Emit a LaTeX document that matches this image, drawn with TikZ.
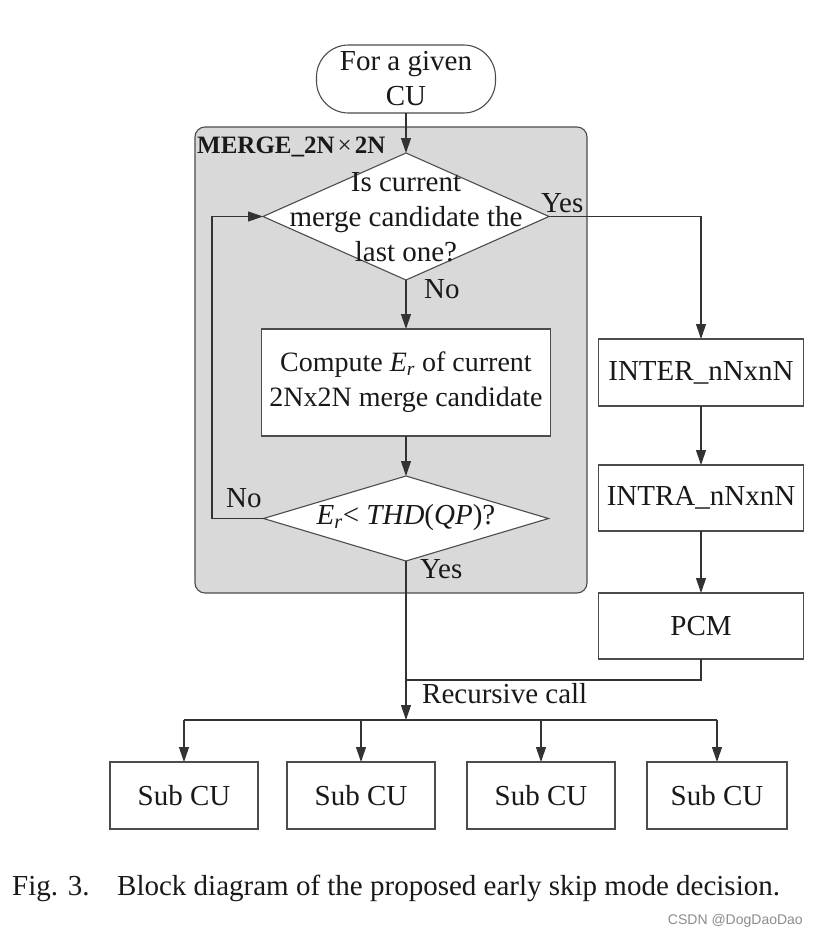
\documentclass[tikz,border=0pt]{standalone}
\usepackage{fontspec}
\setmainfont{Liberation Serif}
\newfontfamily\wmfont{Liberation Sans}
\usetikzlibrary{arrows.meta,shapes.geometric}
\newcommand{\mydiafont}{\fontsize{29}{35}\selectfont}
\begin{document}
\begin{tikzpicture}[x=1pt,y=-1pt,
  line/.style={draw=black!80, line width=1.1pt},
  arr/.style={line, -{Triangle[length=15pt,width=10pt]}},
  box/.style={draw=black!70, line width=1.1pt, fill=white, rectangle, inner sep=2pt, outer sep=0pt, align=center, font=\mydiafont, text=black!90},
  dia/.style={draw=black!70, line width=1.1pt, fill=white, diamond, inner sep=0pt, outer sep=0pt},
  lbl/.style={font=\mydiafont, text=black!90, inner sep=0pt, anchor=base west},
  captxt/.style={anchor=base west, font=\fontsize{29}{34}\selectfont, inner sep=0pt, text=black!90},
]
\fill[white] (0,0) rectangle (818,938);
\useasboundingbox (0,0) rectangle (818,938);

% gray merge region
\node[draw=black!70, line width=1.1pt, fill=black!15, rounded corners=10pt, minimum width=392pt, minimum height=466pt, inner sep=0pt, outer sep=0pt] (merge) at (391,360) {};
\node[lbl, font=\fontsize{25}{30}\selectfont\bfseries] (mlabel) at (197,153) {MERGE\_2N\hspace{3pt}{\mdseries ×}\hspace{3pt}2N};

% start
\node[box, rounded corners=32pt, minimum width=179pt, minimum height=68pt] (start) at (406,79) {For a given\\CU};

% decision 1
\node[dia, minimum width=286pt, minimum height=127pt] (d1) at (406,216.5) {};
\node[font=\mydiafont, align=center, text=black!90, inner sep=0pt] (d1t) at (406,217) {Is current\\merge candidate the\\last one?};

% compute box
\node[box, font=\fontsize{28}{35}\selectfont, minimum width=289pt, minimum height=107pt] (comp) at (406,382.5) {Compute \textit{E}\textsubscript{\textit{r}} of current\\2Nx2N merge candidate};

% decision 2
\node[dia, minimum width=285pt, minimum height=85pt] (d2) at (406,518.5) {};
\node[font=\mydiafont, text=black!90, inner sep=0pt] (d2t) at (406,518) {\textit{E}\textsubscript{\textit{r}}< \textit{THD}(\textit{QP})?};

% right column
\node[box, minimum width=205pt, minimum height=67pt] (inter) at (701,372.5) {INTER\_nNxnN};
\node[box, minimum width=205pt, minimum height=66pt] (intra) at (701,498) {INTRA\_nNxnN};
\node[box, minimum width=205pt, minimum height=66pt] (pcm) at (701,626) {PCM};

% sub CUs
\node[box, minimum width=148pt, minimum height=67pt] (s1) at (184,795.5) {Sub CU};
\node[box, minimum width=148pt, minimum height=67pt] (s2) at (361,795.5) {Sub CU};
\node[box, minimum width=148pt, minimum height=67pt] (s3) at (541,795.5) {Sub CU};
\node[box, minimum width=140pt, minimum height=67pt] (s4) at (717,795.5) {Sub CU};

% coordinates
\coordinate (j) at (406,680);
\coordinate (dist) at (406,720);
\coordinate (loopc) at (212,518.5);

% connectors
\draw[arr] (start.south) -- (d1.north);
\draw[arr] (d1.south) -- (comp.north);
\draw[arr] (comp.south) -- (d2.north);
\draw[arr] (d2.west) -- (loopc) |- (d1.west);
\draw[arr] (d1.east) -| (inter.north);
\draw[arr] (inter.south) -- (intra.north);
\draw[arr] (intra.south) -- (pcm.north);
\draw[line] (pcm.south) |- (j);
\draw[arr] (d2.south) -- (dist);
\draw[line] (s1.north |- dist) -- (s4.north |- dist);
\draw[arr] (s1.north |- dist) -- (s1.north);
\draw[arr] (s2.north |- dist) -- (s2.north);
\draw[arr] (s3.north |- dist) -- (s3.north);
\draw[arr] (s4.north |- dist) -- (s4.north);

% labels
\node[lbl] (yes1) at (541,212) {Yes};
\node[lbl] (no1) at (424,298) {No};
\node[lbl] (no2) at (226,507) {No};
\node[lbl] (yes2) at (420,578) {Yes};
\node[lbl] (rec) at (422,703) {Recursive call};

% caption
\node[captxt] (figno) at (12,895) {Fig. 3.};
\node[captxt] (cap) at (117,895) {Block diagram of the proposed early skip mode decision.};
\node[anchor=east, font=\wmfont\fontsize{14}{16}\selectfont, text=black!45, inner sep=0pt] (wm) at (803,921) {CSDN @DogDaoDao};
\end{tikzpicture}
\end{document}
